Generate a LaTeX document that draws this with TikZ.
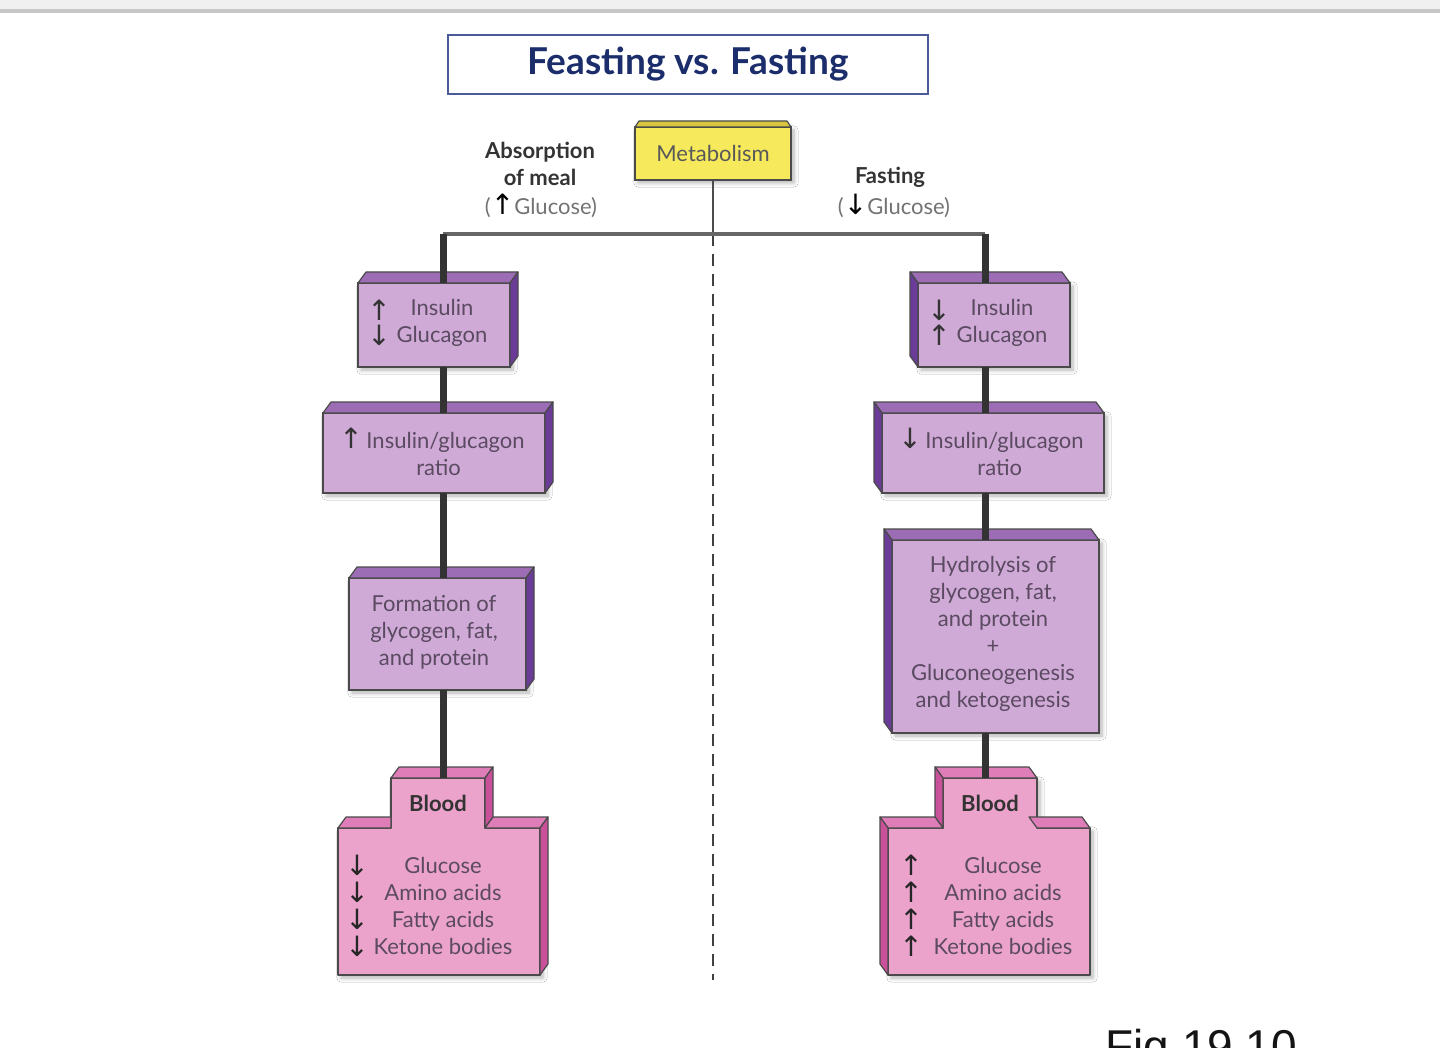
\documentclass[tikz,border=0pt]{standalone}
\usepackage{fontspec}
\setmainfont{Lato}
\newfontfamily\arrowfont{DejaVu Sans}
\newfontfamily\figfont{Liberation Sans}
\usetikzlibrary{calc,shadows.blur}
\definecolor{pfront}{HTML}{CFAAD6}
\definecolor{ptop}{HTML}{9C6DB5}
\definecolor{pside}{HTML}{6A3C97}
\definecolor{bfront}{HTML}{EBA3CB}
\definecolor{btop}{HTML}{DE7DB8}
\definecolor{bside}{HTML}{C8519A}
\definecolor{yfront}{HTML}{F6E95C}
\definecolor{ytop}{HTML}{D9C63E}
\definecolor{edgec}{HTML}{4A4A4A}
\definecolor{txtc}{HTML}{5B4A62}
\definecolor{navy}{HTML}{1B2E6B}
\definecolor{tborder}{HTML}{4B5A98}
\newcommand\upar{{\arrowfont\fontsize{14}{13.5}\selectfont ↑}}
\newcommand\dnar{{\arrowfont\fontsize{14}{13.5}\selectfont ↓}}
\tikzset{
  every node/.style={font=\fontsize{11}{13.5}\selectfont},
  shad/.style={blur shadow={shadow xshift=1.5pt, shadow yshift=-1.5pt, shadow opacity=30, shadow blur steps=6}},
  pbox/.style={draw=edgec, line width=0.6pt, fill=pfront, inner sep=0pt, outer sep=0pt, shad},
  face/.style={draw=edgec, line width=0.6pt, line join=round},
  btxt/.style={text=txtc, align=center, inner sep=0pt},
  conn/.style={draw=black!80, line width=3.5pt},
  bar/.style={draw=black!60, line width=2.4pt},
  lbl/.style={text=black!80, align=center, inner sep=0pt, font=\fontsize{11}{13.5}\selectfont\bfseries},
  glab/.style={text=black!55, inner sep=0pt},
  bloodfront/.style={draw=edgec, line width=0.6pt, fill=bfront, line join=round, shad},
}
\newcommand\cubeR[1]{%
  \filldraw[face, fill=ptop] (#1.north west) -- ($(#1.north west)+(8,-11)$) -- ($(#1.north east)+(8,-11)$) -- (#1.north east) -- cycle;
  \filldraw[face, fill=pside] (#1.north east) -- ($(#1.north east)+(8,-11)$) -- ($(#1.south east)+(8,-11)$) -- (#1.south east) -- cycle;}
\newcommand\cubeL[1]{%
  \filldraw[face, fill=ptop] (#1.north west) -- ($(#1.north west)+(-8,-11)$) -- ($(#1.north east)+(-8,-11)$) -- (#1.north east) -- cycle;
  \filldraw[face, fill=pside] (#1.north west) -- ($(#1.north west)+(-8,-11)$) -- ($(#1.south west)+(-8,-11)$) -- (#1.south west) -- cycle;}
\begin{document}
\begin{tikzpicture}[x=0.5pt, y=-0.5pt]
\clip (0,0) rectangle (1440,1048);
\fill[white] (0,0) rectangle (1440,1048);
\fill[black!6] (0,0) rectangle (1440,9);
\fill[black!22] (0,9) rectangle (1440,13);

% title
\node[draw=tborder, line width=0.7pt, minimum width=240pt, minimum height=29.5pt, inner sep=0pt,
      text=navy, font=\fontsize{18.5}{20}\selectfont\bfseries] (title) at (688,64.5) {Feasting vs. Fasting};

% metabolism
\node[draw=edgec, line width=0.6pt, fill=yfront, minimum width=78pt, minimum height=26.5pt, inner sep=0pt, outer sep=0pt,
      text=black!65, shad] (metab) at (713,153.5) {Metabolism};
\filldraw[face, fill=ytop] (metab.north west) -- ($(metab.north west)+(4,-6)$) -- ($(metab.north east)+(-4,-6)$) -- (metab.north east) -- cycle;

% side labels
\node[lbl] (absorb) at (540,163.5) {Absorption\\of meal};
\node[glab] (gup) at (541,206) {(\textcolor{black}{\upar}Glucose)};
\node[lbl] (fastl) at (890,177) {Fasting};
\node[glab] (gdn) at (894,206) {(\textcolor{black}{\dnar}Glucose)};

% spine coordinates
\coordinate (barL) at (443,234);
\coordinate (barR) at (985,234);
\coordinate (dashEnd) at (713,980);

% left boxes
\node[pbox, minimum width=76pt, minimum height=42pt] (L1) at (434,325) {};
\cubeR{L1}
\node[btxt] (L1t) at (442,322.5) {Insulin\\Glucagon};
\node[btxt, text=black!80] (L1a) at (379,322.5) {\upar\\[-1pt]\dnar};

\node[pbox, minimum width=111pt, minimum height=40pt] (L2) at (434,453) {};
\cubeR{L2}
\node[btxt] (L2t) at (432,451.5) {\textcolor{black!80}{\upar}\,Insulin/glucagon\\\hspace*{0.6em}ratio};

\node[pbox, minimum width=88.5pt, minimum height=56pt] (L3) at (437.5,634) {};
\cubeR{L3}
\node[btxt] (L3t) at (434,632) {Formation of\\glycogen, fat,\\and protein};

% left blood
\filldraw[bloodfront] (391,778) -- (485,778) -- (485,828) -- (540,828) -- (540,975) -- (338,975) -- (338,828) -- (391,828) -- cycle;
\filldraw[face, fill=btop] (391,778) -- (399,767) -- (493,767) -- (485,778) -- cycle;
\filldraw[face, fill=bside] (485,778) -- (493,767) -- (493,817) -- (485,828) -- cycle;
\filldraw[face, fill=btop] (338,828) -- (346,817) -- (391,817) -- (391,828) -- cycle;
\filldraw[face, fill=btop] (485,828) -- (493,817) -- (548,817) -- (540,828) -- cycle;
\filldraw[face, fill=bside] (540,828) -- (548,817) -- (548,964) -- (540,975) -- cycle;
\node[inner sep=0pt, minimum width=47pt, minimum height=25pt, text=black!80, font=\fontsize{11}{13.5}\selectfont\bfseries] (LB) at (438,803) {Blood};
\node[btxt] (LBt) at (443,905.5) {Glucose\\Amino acids\\Fatty acids\\Ketone bodies};
\node[btxt, text=black!85] (LBa) at (357,905.5) {\dnar\\\dnar\\\dnar\\\dnar};

% right boxes
\node[pbox, minimum width=76pt, minimum height=42pt] (R1) at (994,325) {};
\cubeL{R1}
\node[btxt] (R1t) at (1002,322.5) {Insulin\\Glucagon};
\node[btxt, text=black!80] (R1a) at (939,322.5) {\dnar\\[-1pt]\upar};

\node[pbox, minimum width=111pt, minimum height=40pt] (R2) at (993,453) {};
\cubeL{R2}
\node[btxt] (R2t) at (991,451.5) {\textcolor{black!80}{\dnar}\,Insulin/glucagon\\\hspace*{0.8em}ratio};

\node[pbox, minimum width=103.5pt, minimum height=96.5pt] (R3) at (995.5,636.5) {};
\cubeL{R3}
\node[btxt] (R3t) at (993,633.5) {Hydrolysis of\\glycogen, fat,\\and protein\\+\\Gluconeogenesis\\and ketogenesis};

% right blood
\filldraw[bloodfront] (943,778) -- (1037,778) -- (1037,828) -- (1090,828) -- (1090,975) -- (888,975) -- (888,828) -- (943,828) -- cycle;
\filldraw[face, fill=btop] (943,778) -- (935,767) -- (1029,767) -- (1037,778) -- cycle;
\filldraw[face, fill=bside] (943,778) -- (935,767) -- (935,817) -- (943,828) -- cycle;
\filldraw[face, fill=btop] (888,828) -- (880,817) -- (935,817) -- (943,828) -- cycle;
\filldraw[face, fill=btop] (1037,828) -- (1029,817) -- (1082,817) -- (1090,828) -- cycle;
\filldraw[face, fill=bside] (888,828) -- (880,817) -- (880,964) -- (888,975) -- cycle;
\node[inner sep=0pt, minimum width=47pt, minimum height=25pt, text=black!80, font=\fontsize{11}{13.5}\selectfont\bfseries] (RB) at (990,803) {Blood};
\node[btxt] (RBt) at (1003,905.5) {Glucose\\Amino acids\\Fatty acids\\Ketone bodies};
\node[btxt, text=black!85] (RBa) at (911,905.5) {\upar\\\upar\\\upar\\\upar};

% connectors
\draw[draw=black!70, line width=1.2pt] (metab.south) -- (metab.south |- barL);
\draw[draw=black!75, line width=1.1pt, dash pattern=on 6pt off 4pt] (metab.south |- barL) -- (dashEnd);
\draw[bar] (barL) -- (barR);
\draw[conn] (barL) -- (L1.north -| barL);
\draw[conn] (barR) -- (R1.north -| barR);
\draw[conn] (L1.south -| barL) -- (L2.north -| barL);
\draw[conn] (L2.south -| barL) -- (L3.north -| barL);
\draw[conn] (L3.south -| barL) -- (LB.north -| barL);
\draw[conn] (R1.south -| barR) -- (R2.north -| barR);
\draw[conn] (R2.south -| barR) -- (R3.north -| barR);
\draw[conn] (R3.south -| barR) -- (RB.north -| barR);

% figure label (cut by bottom edge, as in the reference)
\node[anchor=base west, inner sep=0pt, text=black!92, font=\figfont\fontsize{23}{26}\selectfont] (fig) at (1105,1062) {Fig 19.10};
\end{tikzpicture}
\end{document}
